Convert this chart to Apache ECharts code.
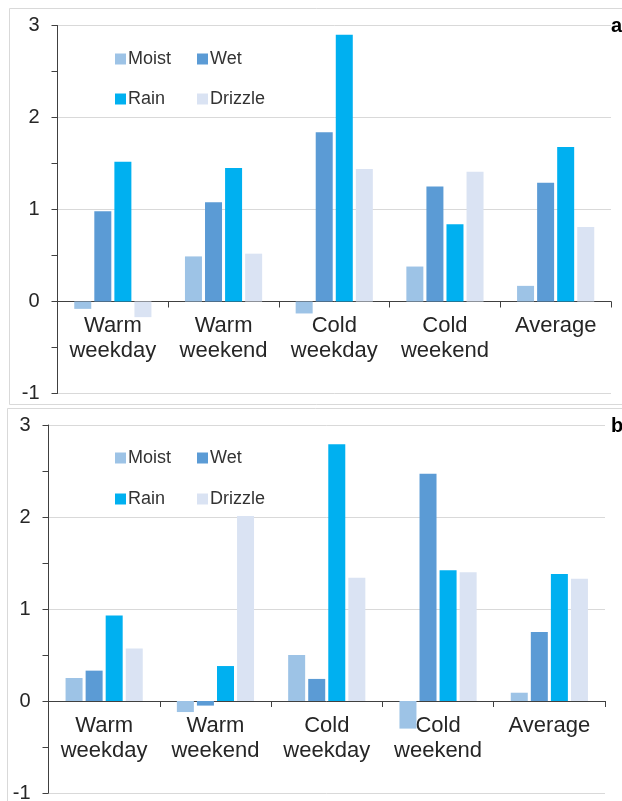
<!DOCTYPE html>
<html>
<head>
<meta charset="utf-8">
<script src="https://cdn.jsdelivr.net/npm/echarts@6/dist/echarts.min.js"></script>
<style>
    html, body { margin: 0; padding: 0; background: #fff; }
    #main { width: 622px; height: 801px; }
</style>
</head>
<body>
<div id="main"></div>
<script>
// categories and values
var categories = ['Warm\nweekday', 'Warm\nweekend', 'Cold\nweekday', 'Cold\nweekend', 'Average'];
var yTicks = [-1, 0, 1, 2, 3];

// panel a
var moistA = [-0.08, 0.49, -0.13, 0.38, 0.17];
var wetA = [0.98, 1.08, 1.84, 1.25, 1.29];
var rainA = [1.52, 1.45, 2.90, 0.84, 1.68];
var drizzleA = [-0.17, 0.52, 1.44, 1.41, 0.81];

// panel b
var moistB = [0.25, -0.12, 0.50, -0.30, 0.09];
var wetB = [0.33, -0.05, 0.24, 2.47, 0.75];
var rainB = [0.93, 0.38, 2.79, 1.42, 1.38];
var drizzleB = [0.57, 2.01, 1.34, 1.40, 1.33];

var names = ['Moist', 'Wet', 'Rain', 'Drizzle'];
var colors = ['#9dc3e6', '#5b9bd5', '#00b0f0', '#dae3f3'];
var panelA = [moistA, wetA, rainA, drizzleA];
var panelB = [moistB, wetB, rainB, drizzleB];

var textColor = '#262626';
var axisColor = '#404040';
var font = 'Liberation Sans, Arial, sans-serif';
var gridH = 368;
var unitH = gridH / (yTicks[yTicks.length - 1] - yTicks[0]);

function xAxisFor(idx) {
    return {
        type: 'category',
        gridIndex: idx,
        data: categories,
        axisLine: { onZero: true, lineStyle: { color: axisColor, width: 1 } },
        axisTick: { show: true, length: 6, lineStyle: { color: axisColor } },
        // labels stay at the grid bottom, so pull them up to sit under the zero line
        axisLabel: { color: textColor, fontFamily: font, fontSize: 22, lineHeight: 25,
                     margin: 12 - unitH * (0 - yTicks[0]), interval: 0 },
        splitLine: { show: false }
    };
}

function yAxisFor(idx) {
    return {
        type: 'value',
        gridIndex: idx,
        min: yTicks[0],
        max: yTicks[yTicks.length - 1],
        interval: 1,
        axisLine: { show: true, lineStyle: { color: axisColor, width: 1 } },
        axisTick: { show: true, length: 6, lineStyle: { color: axisColor } },
        minorTick: { show: true, splitNumber: 2, length: 6, lineStyle: { color: axisColor } },
        axisLabel: { color: textColor, fontFamily: font, fontSize: 20, margin: 18 },
        splitLine: { show: true, lineStyle: { color: '#d9d9d9', width: 1 } }
    };
}

var series = [];
[panelA, panelB].forEach(function (panel, p) {
    panel.forEach(function (vals, i) {
        series.push({
            name: names[i],
            type: 'bar',
            xAxisIndex: p,
            yAxisIndex: p,
            data: vals,
            barWidth: 17,
            barGap: '18%',
            itemStyle: { color: colors[i] }
        });
    });
});

// legends: two rows of two items in each panel
var legendPos = [[115, 58], [197, 58], [115, 98], [197, 98], [115, 457], [197, 457], [115, 498], [197, 498]];
var legends = legendPos.map(function (pos, k) {
    return {
        data: [names[k % 4]],
        left: pos[0],
        top: pos[1] - 8,
        padding: 0,
        itemWidth: 11,
        itemHeight: 11,
        itemGap: 0,
        icon: 'rect',
        selectedMode: false,
        textStyle: { color: '#333', fontFamily: font, fontSize: 18, padding: [0, 0, 0, -3] }
    };
});

var chart = echarts.init(document.getElementById('main'), null, { renderer: 'canvas' });
chart.setOption({
    backgroundColor: '#fff',
    animation: false,
    legend: legends,
    grid: [
        { left: 57.5, right: 11, top: 25.5, height: gridH, outerBoundsMode: 'none' },
        { left: 48.5, right: 17, top: 425, height: gridH, outerBoundsMode: 'none' }
    ],
    xAxis: [xAxisFor(0), xAxisFor(1)],
    yAxis: [yAxisFor(0), yAxisFor(1)],
    series: series,
    graphic: [
        { type: 'rect', silent: true, z: -1, shape: { x: 9.5, y: 8.5, width: 640, height: 396 },
          style: { fill: 'none', stroke: '#d9d9d9', lineWidth: 1 } },
        { type: 'rect', silent: true, z: -1, shape: { x: 7.5, y: 408.5, width: 640, height: 420 },
          style: { fill: 'none', stroke: '#d9d9d9', lineWidth: 1 } },
        { type: 'text', left: 611, top: 16,
          style: { text: 'a', fill: '#000', font: 'bold 20px ' + font } },
        { type: 'text', left: 611, top: 416,
          style: { text: 'b', fill: '#000', font: 'bold 20px ' + font } }
    ]
});
</script>
</body>
</html>
